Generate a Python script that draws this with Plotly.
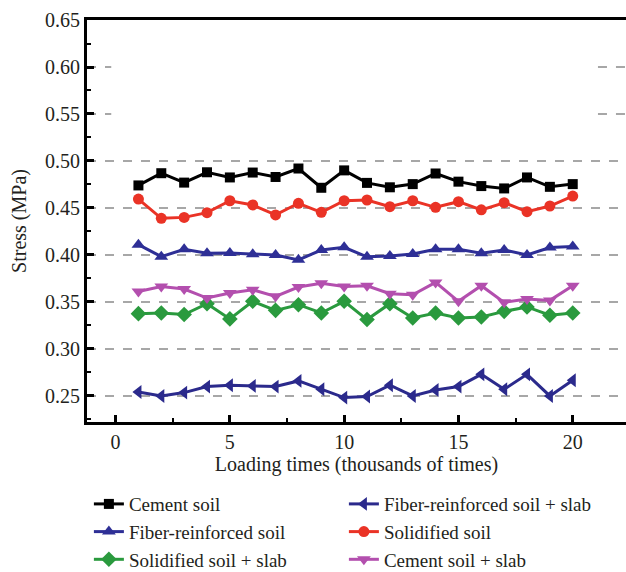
import plotly.graph_objects as go

x = list(range(1, 21))

cement_soil = [0.474, 0.487, 0.477, 0.488, 0.4825, 0.4877, 0.483, 0.492, 0.4715, 0.490,
               0.4767, 0.472, 0.4754, 0.4867, 0.478, 0.4733, 0.4708, 0.4825, 0.4725, 0.4754]
fiber_slab = [0.2542, 0.250, 0.2536, 0.260, 0.2614, 0.2607, 0.260, 0.266, 0.2571, 0.2483,
              0.2494, 0.2614, 0.250, 0.2564, 0.260, 0.273, 0.2571, 0.273, 0.250, 0.2667]
fiber_soil = [0.411, 0.3982, 0.406, 0.4018, 0.402, 0.4007, 0.400, 0.3948, 0.4053, 0.4081,
              0.398, 0.399, 0.401, 0.406, 0.406, 0.4018, 0.4053, 0.400, 0.408, 0.409]
solidified = [0.4595, 0.439, 0.440, 0.445, 0.4577, 0.4532, 0.4426, 0.455, 0.4454, 0.4577,
              0.4585, 0.4514, 0.4577, 0.4507, 0.4567, 0.448, 0.4556, 0.4461, 0.4521, 0.4627]
solid_slab = [0.3376, 0.3383, 0.3366, 0.3482, 0.332, 0.3507, 0.3411, 0.3471, 0.3383, 0.3507,
              0.3313, 0.3482, 0.333, 0.3383, 0.333, 0.334, 0.340, 0.3447, 0.3359, 0.3383]
cement_slab = [0.3612, 0.3665, 0.3638, 0.3542, 0.3595, 0.363, 0.356, 0.3659, 0.370, 0.3665,
               0.3673, 0.3588, 0.3577, 0.3708, 0.3507, 0.3673, 0.3496, 0.3532, 0.3517, 0.3673]

names = ["Cement soil", "Fiber-reinforced soil + slab", "Fiber-reinforced soil",
         "Solidified soil", "Solidified soil + slab", "Cement soil + slab"]
series = [cement_soil, fiber_slab, fiber_soil, solidified, solid_slab, cement_slab]
colors = ["#000000", "#2b2a8c", "#2e2f96", "#ea3326", "#2a9a3e", "#b34fae"]
symbols = ["square", "triangle-left", "triangle-up", "circle", "diamond", "triangle-down"]
sizes = [10, 12, 12, 11, 12, 12]

grid_full = [0.25, 0.30, 0.35, 0.40, 0.45, 0.50]
grid_partial = [0.55, 0.60]

fig = go.Figure()
for n, s, c, sym, sz in zip(names, series, colors, symbols, sizes):
    fig.add_trace(go.Scatter(x=x, y=s, name=n, mode="lines+markers",
                             line=dict(color=c, width=3),
                             marker=dict(symbol=sym, size=sz, color=c)))

grid_style = dict(color="#8a8a8a", width=1.5, dash="dash")
shapes = []
for g in grid_full:
    shapes.append(dict(type="line", xref="paper", yref="y", x0=0, x1=1, y0=g, y1=g,
                       line=grid_style, layer="below"))
for g in grid_partial:
    shapes.append(dict(type="line", xref="paper", yref="y", x0=0, x1=0.045, y0=g, y1=g,
                       line=grid_style, layer="below"))
    shapes.append(dict(type="line", xref="paper", yref="y", x0=0.948, x1=1, y0=g, y1=g,
                       line=grid_style, layer="below"))

FONT = "Liberation Serif"
TXT = "#231f20"
fig.update_layout(
    width=626, height=572,
    margin=dict(l=87, r=0, t=20, b=150, autoexpand=False),
    paper_bgcolor="white", plot_bgcolor="white",
    font=dict(family=FONT, size=20, color=TXT),
    showlegend=True,
    legend=dict(orientation="h", x=0.142, xref="container", xanchor="left",
                y=0.152, yref="container", yanchor="top",
                entrywidth=210, entrywidthmode="pixels",
                font=dict(family=FONT, size=19, color=TXT),
                itemclick=False, tracegroupgap=0),
    xaxis=dict(range=[-1.25, 22.33], dtick=5, tick0=0, automargin=False,
               showgrid=False, zeroline=False,
               showline=True, linewidth=3, linecolor="black", mirror=True,
               ticks="inside", ticklen=7, tickwidth=2.5, tickcolor="black",
               minor=dict(dtick=2.5, ticks="inside", ticklen=4, tickwidth=2, tickcolor="black"),
               title=dict(text="Loading times (thousands of times)", standoff=4,
                          font=dict(family=FONT, size=20)),
               tickfont=dict(family=FONT, size=20)),
    yaxis=dict(range=[0.2223, 0.65], dtick=0.05, tick0=0, tickformat=".2f", automargin=False,
               showgrid=False, zeroline=False,
               showline=True, linewidth=3, linecolor="black", mirror=False,
               ticks="inside", ticklen=7, tickwidth=2.5, tickcolor="black",
               minor=dict(dtick=0.025, ticks="inside", ticklen=4, tickwidth=2, tickcolor="black",
                          showgrid=False),
               title=dict(text="Stress (MPa)", standoff=14, font=dict(family=FONT, size=20)),
               tickfont=dict(family=FONT, size=20)),
    shapes=shapes,
)

fig.write_html("out.html")
